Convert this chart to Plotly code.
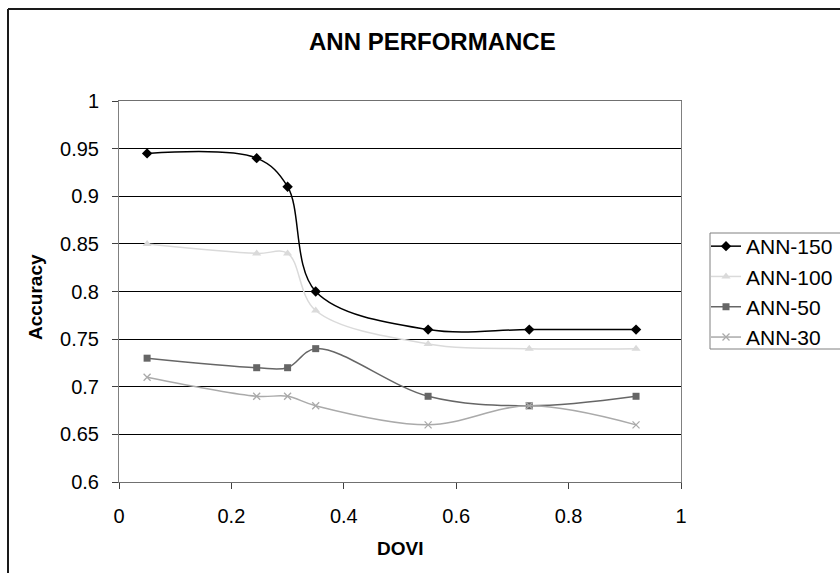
import plotly.graph_objects as go

dovi = [0.05, 0.245, 0.30, 0.35, 0.55, 0.73, 0.92]
ann150 = [0.945, 0.94, 0.91, 0.80, 0.76, 0.76, 0.76]
ann100 = [0.85, 0.84, 0.84, 0.78, 0.745, 0.74, 0.74]
ann50 = [0.73, 0.72, 0.72, 0.74, 0.69, 0.68, 0.69]
ann30 = [0.71, 0.69, 0.69, 0.68, 0.66, 0.68, 0.66]
names = ["ANN-150", "ANN-100", "ANN-50", "ANN-30"]
x_ticks = [0, 0.2, 0.4, 0.6, 0.8, 1]
x_tick_text = ["0", "0.2", "0.4", "0.6", "0.8", "1"]
y_ticks = [0.6, 0.65, 0.7, 0.75, 0.8, 0.85, 0.9, 0.95, 1]
y_tick_text = ["0.6", "0.65", "0.7", "0.75", "0.8", "0.85", "0.9", "0.95", "1"]

FONT = "Liberation Sans, Arial, sans-serif"

styles = [
    dict(color="#000000", symbol="diamond", size=8, lw=0),
    dict(color="#dadada", symbol="triangle-up", size=8, lw=0),
    dict(color="#666666", symbol="square", size=7, lw=0),
    dict(color="#aaaaaa", symbol="x-thin", size=7, lw=1.3),
]

fig = go.Figure()
for name, ys, st in zip(names, [ann150, ann100, ann50, ann30], styles):
    fig.add_trace(go.Scatter(
        x=dovi, y=ys, name=name, mode="lines+markers",
        line=dict(color=st["color"], width=1.5, shape="spline", smoothing=1.0),
        marker=dict(symbol=st["symbol"], size=st["size"], color=st["color"],
                    line=dict(color=st["color"], width=st["lw"])),
    ))

# plot area: x 119..681 px, y 101..482 px
L, R, T, B = 119, 681, 101, 482
W, H = 840, 573
pw, ph = R - L, B - T

def px(x):
    return (x - L) / pw

def py(y):
    return (B - y) / ph

fig.update_layout(
    width=W, height=H,
    margin=dict(l=L, r=W - R, t=T, b=H - B, pad=0, autoexpand=False),
    paper_bgcolor="white", plot_bgcolor="white",
    font=dict(family=FONT, color="#000000", size=20),
    showlegend=True,
    legend=dict(
        xref="container", yref="container",
        x=706 / W, y=1 - 226 / H, xanchor="left", yanchor="top",
        borderwidth=0, bgcolor="rgba(0,0,0,0)",
        font=dict(family=FONT, size=21, color="#000000"),
        itemwidth=30, tracegroupgap=0,
    ),
    xaxis=dict(
        range=[0, 1], tickvals=x_ticks, ticktext=x_tick_text,
        showgrid=False, zeroline=False,
        showline=True, linecolor="#707070", linewidth=1, mirror=True,
        ticks="outside", ticklen=6, tickcolor="#404040", tickwidth=1,
        tickfont=dict(family=FONT, size=20, color="#000000"),
        ticklabelstandoff=10,
    ),
    yaxis=dict(
        range=[0.6, 1], tickvals=y_ticks, ticktext=y_tick_text,
        showgrid=True, gridcolor="#000000", gridwidth=1, zeroline=False,
        showline=True, linecolor="#808080", linewidth=1, mirror=True,
        ticks="outside", ticklen=6, tickcolor="#404040", tickwidth=1,
        tickfont=dict(family=FONT, size=20, color="#000000"),
        ticklabelstandoff=9,
    ),
    annotations=[
        dict(text="<b>ANN PERFORMANCE</b>", x=px(432), y=py(41), xref="paper", yref="paper",
             xanchor="center", yanchor="middle", showarrow=False,
             font=dict(family=FONT, size=24, color="#000000")),
        dict(text="<b>Accuracy</b>", x=px(35), y=py(297), xref="paper", yref="paper",
             xanchor="center", yanchor="middle", showarrow=False, textangle=-90,
             font=dict(family=FONT, size=19, color="#000000")),
        dict(text="<b>DOVI</b>", x=px(400), y=py(548), xref="paper", yref="paper",
             xanchor="center", yanchor="middle", showarrow=False,
             font=dict(family=FONT, size=19, color="#000000")),
    ],
    shapes=[
        dict(type="line", xref="paper", yref="paper", x0=px(8), x1=px(8), y0=py(9), y1=py(620),
             line=dict(color="#1a1a1a", width=2)),
        dict(type="line", xref="paper", yref="paper", x0=px(8), x1=px(900), y0=py(9), y1=py(9),
             line=dict(color="#1a1a1a", width=2)),
        dict(type="rect", xref="paper", yref="paper", x0=px(710), x1=px(900), y0=py(233), y1=py(349),
             line=dict(color="#808080", width=1), fillcolor="rgba(0,0,0,0)"),
    ],
)

fig.write_html("out.html")
